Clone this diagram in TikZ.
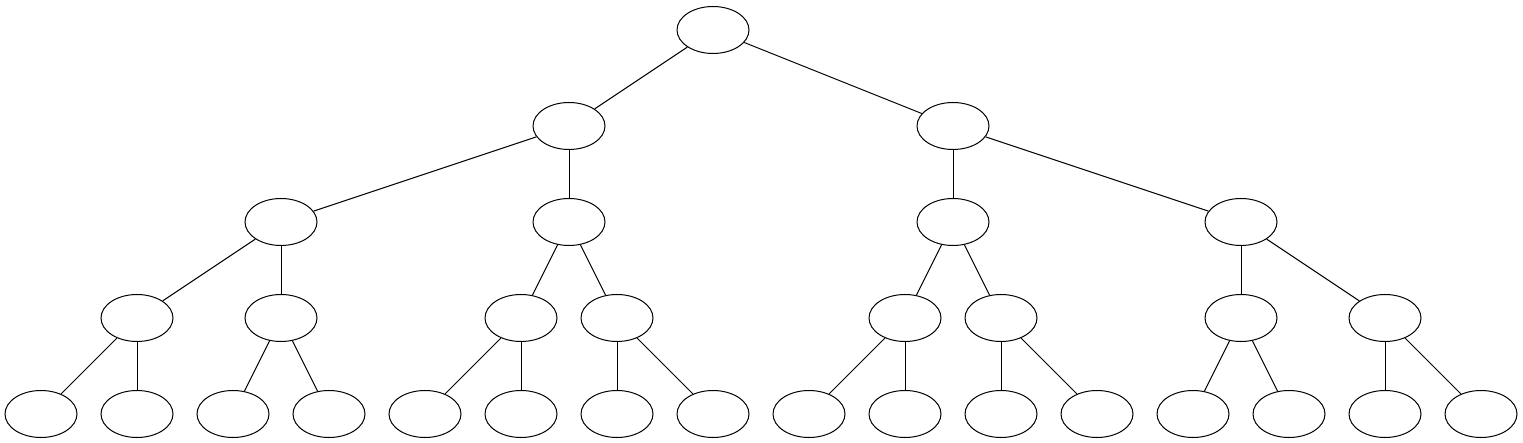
\documentclass[tikz,border=0pt]{standalone}
\usetikzlibrary{shapes.geometric}
\begin{document}
\begin{tikzpicture}[x=1pt,y=-1pt,line width=1pt,
  nd/.style={draw,ellipse,minimum width=72pt,minimum height=47pt,inner sep=0pt}]
\useasboundingbox (0,0) rectangle (1523,443);
\node[nd] (r) at (713,30) {};
\node[nd] (a) at (569,126) {};
\node[nd] (b) at (953,126) {};
\node[nd] (a1) at (281,222) {};
\node[nd] (a2) at (569,222) {};
\node[nd] (b1) at (953,222) {};
\node[nd] (b2) at (1241,222) {};
\node[nd] (a11) at (137,318) {};
\node[nd] (a12) at (281,318) {};
\node[nd] (a21) at (521,318) {};
\node[nd] (a22) at (617,318) {};
\node[nd] (b11) at (905,318) {};
\node[nd] (b12) at (1001,318) {};
\node[nd] (b21) at (1241,318) {};
\node[nd] (b22) at (1385,318) {};
\foreach \n/\x in {l1/41,l2/137,l3/233,l4/329,l5/425,l6/521,l7/617,l8/713,l9/809,l10/905,l11/1001,l12/1097,l13/1193,l14/1289,l15/1385,l16/1481}
  \node[nd] (\n) at (\x,414) {};
\draw (r) -- (a); \draw (r) -- (b);
\draw (a) -- (a1); \draw (a) -- (a2);
\draw (b) -- (b1); \draw (b) -- (b2);
\draw (a1) -- (a11); \draw (a1) -- (a12);
\draw (a2) -- (a21); \draw (a2) -- (a22);
\draw (b1) -- (b11); \draw (b1) -- (b12);
\draw (b2) -- (b21); \draw (b2) -- (b22);
\draw (a11) -- (l1); \draw (a11) -- (l2);
\draw (a12) -- (l3); \draw (a12) -- (l4);
\draw (a21) -- (l5); \draw (a21) -- (l6);
\draw (a22) -- (l7); \draw (a22) -- (l8);
\draw (b11) -- (l9); \draw (b11) -- (l10);
\draw (b12) -- (l11); \draw (b12) -- (l12);
\draw (b21) -- (l13); \draw (b21) -- (l14);
\draw (b22) -- (l15); \draw (b22) -- (l16);
\end{tikzpicture}
\end{document}
